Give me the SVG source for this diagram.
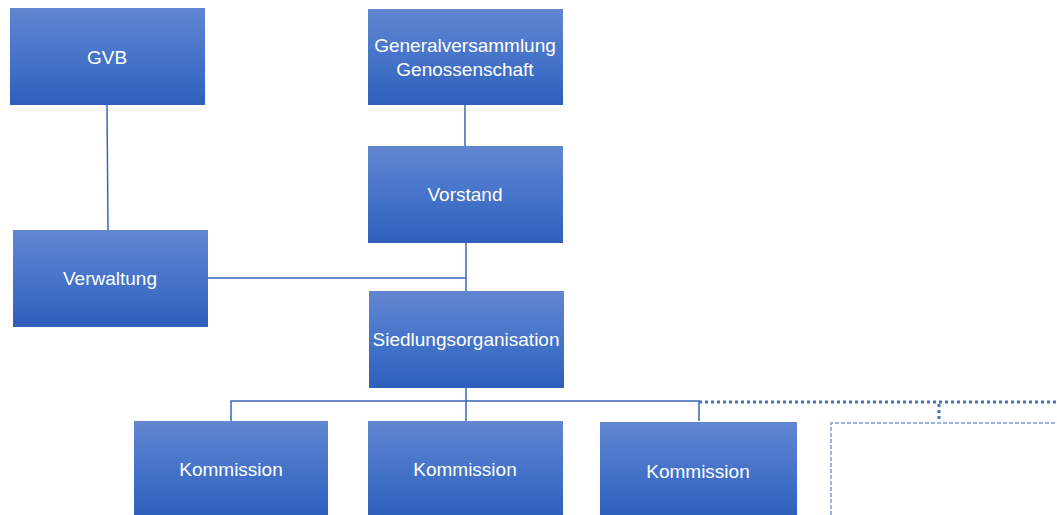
<svg xmlns="http://www.w3.org/2000/svg" width="1057" height="515" viewBox="0 0 1057 515">
<defs>
<linearGradient id="g" x1="0" y1="0" x2="0" y2="1">
<stop offset="0" stop-color="#6286D0"/>
<stop offset="0.5" stop-color="#4674CA"/>
<stop offset="1" stop-color="#2E5FBA"/>
</linearGradient>
<style>
.box{fill:url(#g);}
.t{font-family:"Liberation Sans",Arial,sans-serif;font-size:19px;fill:#FFFFFF;text-anchor:middle;dominant-baseline:central;}
.c{stroke:#3A66B8;stroke-width:1.5;fill:none;}
.dot{stroke:#4472C4;stroke-width:3;stroke-dasharray:3 3;fill:none;}
.dash{stroke:#7A9BD6;stroke-width:1.5;stroke-dasharray:4 2;fill:none;}
</style>
</defs>
<rect width="1057" height="515" fill="#FFFFFF"/>
<g id="connectors">
<line class="c" x1="107" y1="105" x2="108" y2="230" stroke="#2E75B6"/>
<line class="c" x1="465" y1="105" x2="465" y2="146"/>
<line class="c" x1="466" y1="243" x2="466" y2="291"/>
<line class="c" x1="208" y1="278" x2="466" y2="278"/>
<line class="c" x1="466" y1="388" x2="466" y2="421"/>
<polyline class="c" points="231,421 231,401 699,401 699,421"/>
<line class="dot" x1="699" y1="402" x2="1057" y2="402"/>
<line class="dot" x1="939" y1="404" x2="939" y2="422"/>
<polyline class="dash" points="831,515 831,423 1057,423"/>
</g>
<g id="gvb"><rect class="box" x="10" y="8" width="195" height="97"/><text class="t" x="107" y="57">GVB</text></g>
<g id="generalversammlung"><rect class="box" x="368" y="9" width="195" height="96"/><text class="t" x="465" y="45">Generalversammlung</text><text class="t" x="465" y="69">Genossenschaft</text></g>
<g id="vorstand"><rect class="box" x="368" y="146" width="195" height="97"/><text class="t" x="465" y="194">Vorstand</text></g>
<g id="verwaltung"><rect class="box" x="13" y="230" width="195" height="97"/><text class="t" x="110" y="278">Verwaltung</text></g>
<g id="siedlungsorganisation"><rect class="box" x="369" y="291" width="195" height="97"/><text class="t" x="466" y="339">Siedlungsorganisation</text></g>
<g id="kommission1"><rect class="box" x="134" y="421" width="194" height="94"/><text class="t" x="231" y="469">Kommission</text></g>
<g id="kommission2"><rect class="box" x="368" y="421" width="195" height="94"/><text class="t" x="465" y="469">Kommission</text></g>
<g id="kommission3"><rect class="box" x="600" y="422" width="197" height="93"/><text class="t" x="698" y="471">Kommission</text></g>
</svg>
